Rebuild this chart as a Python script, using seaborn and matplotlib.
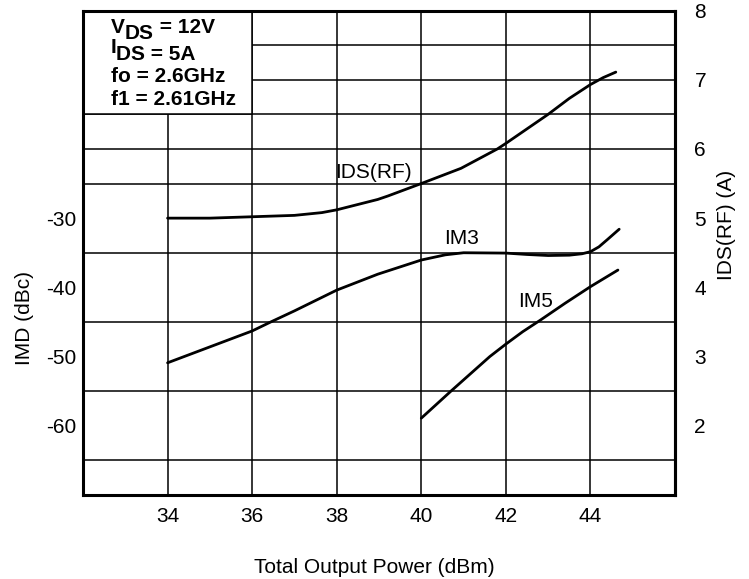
import matplotlib
matplotlib.use("Agg")
import matplotlib.pyplot as plt
import seaborn as sns
from matplotlib.patches import Rectangle

# datos
ids_x = [34, 35, 36, 37, 37.65, 38, 38.97, 39.21, 40, 40.94, 41.8, 42, 43, 43.5, 44, 44.3, 44.6]
ids_a = [5.00, 5.00, 5.02, 5.04, 5.08, 5.12, 5.27, 5.32, 5.50, 5.72, 6.00, 6.08, 6.50, 6.73, 6.93, 7.03, 7.11]

im3_x = [34, 35, 36, 36.44, 37, 38, 38.97, 40, 40.57, 41, 42, 42.5, 43, 43.5, 43.8, 44, 44.2, 44.4, 44.68]
im3_dbc = [-50.9, -48.6, -46.3, -45.0, -43.4, -40.4, -38.1, -36.05, -35.3, -35.0, -35.05, -35.25, -35.4, -35.35, -35.15, -34.85, -34.15, -33.1, -31.6]

im5_x = [40, 40.7, 41.62, 42, 42.4, 42.8, 43.4, 44, 44.65]
im5_dbc = [-58.9, -55.0, -50.0, -48.2, -46.4, -44.8, -42.3, -39.9, -37.5]

x_ticks = [34, 36, 38, 40, 42, 44]
imd_ticks = [-30, -40, -50, -60]
ids_ticks = [2, 3, 4, 5, 6, 7, 8]

sns.set_style("white")
plt.rcParams['font.family'] = ['Liberation Sans', 'DejaVu Sans']
plt.rcParams['axes.unicode_minus'] = False
plt.rcParams['text.color'] = 'black'

fs = 15
fig = plt.figure(figsize=(7.49, 5.79), dpi=100)
ax = fig.add_axes([83 / 749, 1 - 495 / 579, 592 / 749, 484.5 / 579])

# Curvas IMD
sns.lineplot(x=im3_x, y=im3_dbc, ax=ax, color='black', lw=2, estimator=None, sort=False)
sns.lineplot(x=im5_x, y=im5_dbc, ax=ax, color='black', lw=2, estimator=None, sort=False)

ax.set_xlim(32, 46)
ax.set_ylim(-70, 0)
ax.set_xticks(x_ticks)
ax.set_yticks(imd_ticks)
ax.set_yticks(range(-65, 0, 5), minor=True)
ax.grid(which='major', axis='x', color='black', lw=1.1)
ax.grid(which='minor', axis='y', color='black', lw=1.1)
ax.tick_params(axis='both', which='both', length=0, labelsize=fs, colors='black')
ax.tick_params(axis='x', pad=9)
ax.tick_params(axis='y', pad=5)
for s in ax.spines.values():
    s.set_linewidth(2.2)
    s.set_color('black')

# Caja de condiciones
ax.add_patch(Rectangle((32, -15), 4, 15, facecolor='white', edgecolor='black', lw=1.1, zorder=2))
kw = dict(fontsize=fs, fontweight='bold', color='black', zorder=3)
t1 = ax.text(0.0468, 0.9536, "V", transform=ax.transAxes, va='baseline', **kw)
t2 = ax.annotate("DS", xy=(1, 0), xycoords=t1, xytext=(0, -4.3), textcoords='offset points', va='bottom', **kw)
ax.annotate(" = 12V", xy=(1, 0), xycoords=t2, xytext=(0, 4.3), textcoords='offset points', va='bottom', **kw)
t4 = ax.text(0.0468, 0.9123, "I", transform=ax.transAxes, va='baseline', **kw)
ax.annotate("DS = 5A", xy=(1, 0), xycoords=t4, xytext=(0, -5), textcoords='offset points', va='bottom', **kw)
ax.text(0.0468, 0.8524, "fo = 2.6GHz", transform=ax.transAxes, va='baseline', **kw)
ax.text(0.0468, 0.805, "f1 = 2.61GHz", transform=ax.transAxes, va='baseline', **kw)

# Etiquetas de curvas
ax.text(37.97, -24.8, "IDS(RF)", fontsize=fs, ha='left', va='bottom')
ax.text(40.53, -33.0, "IM3", fontsize=fs, ha='left', va='center')
ax.text(42.28, -42.1, "IM5", fontsize=fs, ha='left', va='center')

# Eje derecho: corriente
ax2 = ax.twinx()
sns.lineplot(x=ids_x, y=ids_a, ax=ax2, color='black', lw=2, estimator=None, sort=False)
ax2.set_ylim(1, 8)
ax2.set_yticks(ids_ticks)
ax2.tick_params(axis='y', length=0, labelsize=fs, colors='black', pad=14)
ax2.grid(False)
for name, s in ax2.spines.items():
    s.set_visible(name == 'right')
    s.set_linewidth(2.2)
    s.set_color('black')

fig.text(24 / 749, 1 - 318 / 579, "IMD (dBc)", rotation=90, ha='center', va='center', fontsize=fs)
fig.text(727 / 749, 1 - 224.5 / 579, "IDS(RF) (A)", rotation=90, ha='center', va='center', fontsize=fs)
fig.text(374 / 749, 1 - 573 / 579, "Total Output Power (dBm)", ha='center', va='baseline', fontsize=fs)

fig.savefig("out.png", dpi=100)
